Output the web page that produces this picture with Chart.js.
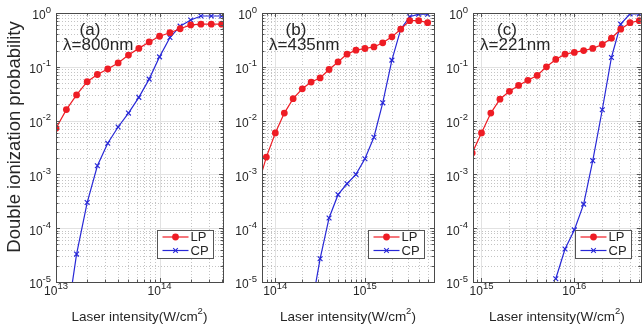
<!DOCTYPE html>
<html>
<head>
<meta charset="utf-8">
<script src="https://cdn.jsdelivr.net/npm/chart.js@4.4.0/dist/chart.umd.min.js"></script>
<style>
  html, body { margin: 0; padding: 0; background: #fff; overflow: hidden; }
  #wrap { position: relative; width: 644px; height: 329px; overflow: hidden; }
  canvas { position: absolute; left: 0; top: 0; }
</style>
</head>
<body>
<div id="wrap">
  <canvas id="chartA" width="644" height="329"></canvas>
  <canvas id="chartB" width="644" height="329"></canvas>
  <canvas id="chartC" width="646" height="329"></canvas>
</div>
<script>
// shared y axis (probability)
const yMin = 1e-5;
const yMax = 1;
const yTickExps = [-5, -4, -3, -2, -1, 0];

// (a) lambda = 800 nm
const intensityA = [1.0e13, 1.26e13, 1.58e13, 2.0e13, 2.51e13, 3.16e13, 3.98e13, 5.01e13, 6.31e13,
  7.94e13, 1.0e14, 1.26e14, 1.58e14, 2.0e14, 2.51e14, 3.16e14, 3.98e14];
const lpA = [0.0072, 0.016, 0.030, 0.053, 0.072, 0.091, 0.118, 0.165, 0.22,
  0.29, 0.37, 0.43, 0.51, 0.60, 0.62, 0.62, 0.62];
const cpA = [null, 1.7e-6, 3.3e-5, 3.0e-4, 1.45e-3, 3.8e-3, 7.6e-3, 0.0138, 0.027,
  0.059, 0.153, 0.35, 0.57, 0.74, 0.88, 0.88, 0.88];
const xTickExpsA = [13, 14];

// (b) lambda = 435 nm
const intensityB = [6.31e13, 7.94e13, 1.0e14, 1.26e14, 1.58e14, 2.0e14, 2.51e14, 3.16e14, 3.98e14, 5.01e14,
  6.31e14, 7.94e14, 1.0e15, 1.26e15, 1.58e15, 2.0e15, 2.51e15, 3.16e15, 3.98e15, 5.01e15];
const lpB = [5.7e-4, 2.1e-3, 5.9e-3, 0.0138, 0.0256, 0.039, 0.052, 0.062, 0.089, 0.123,
  0.172, 0.204, 0.219, 0.234, 0.279, 0.36, 0.50, 0.72, 0.72, 0.66];
const cpB = [null, null, null, null, null, null, 3.1e-6, 2.7e-5, 1.55e-4, 4.2e-4,
  6.7e-4, 1.0e-3, 1.95e-3, 4.9e-3, 0.0214, 0.133, 0.50, 0.85, 0.95, 0.95];
const xTickExpsB = [14, 15];

// (c) lambda = 221 nm
const intensityC = [7.94e14, 1.0e15, 1.26e15, 1.58e15, 2.0e15, 2.51e15, 3.16e15, 3.98e15, 5.01e15, 6.31e15,
  7.94e15, 1.0e16, 1.26e16, 1.58e16, 2.0e16, 2.51e16, 3.16e16, 3.98e16, 5.01e16];
const lpC = [2.5e-3, 5.9e-3, 0.0138, 0.025, 0.035, 0.045, 0.056, 0.069, 0.10, 0.137,
  0.172, 0.185, 0.20, 0.22, 0.26, 0.34, 0.50, 0.66, 0.72];
const cpC = [null, null, null, null, null, null, null, null, null, 1.15e-5,
  4.1e-5, 9.3e-5, 2.8e-4, 1.8e-3, 0.0159, 0.149, 0.62, 0.96, 0.96];
const xTickExpsC = [15, 16];

const seriesNames = ['LP', 'CP'];
const RED = 'rgb(238,28,36)';
const BLUE = 'rgb(40,40,215)';
const FONT = '"Liberation Sans", Arial, Helvetica, sans-serif';
const TEXT = '#262626';

const panels = [
  { id: 'chartA', x: intensityA, lp: lpA, cp: cpA, xMin: 1e13, xMax: 4.1e14, xTicks: xTickExpsA,
    tag: '(a)', wave: 'λ=800nm', pad: { left: 56, right: 421, top: 13, bottom: 47 }, yTitle: true },
  { id: 'chartB', x: intensityB, lp: lpB, cp: cpB, xMin: 7.1e13, xMax: 5.9e15, xTicks: xTickExpsB,
    tag: '(b)', wave: 'λ=435nm', pad: { left: 262, right: 210, top: 13, bottom: 47 }, yTitle: false },
  { id: 'chartC', x: intensityC, lp: lpC, cp: cpC, xMin: 8.1e14, xMax: 5.2e16, xTicks: xTickExpsC,
    tag: '(c)', wave: 'λ=221nm', pad: { left: 473, right: 1, top: 13, bottom: 47 }, yTitle: false }
];

function pairs(xs, ys) {
  return xs.map((v, i) => ({ x: v, y: ys[i] }));
}

// every value k*10^e inside [min, max]
function logGridValues(min, max) {
  const out = [];
  for (let e = Math.floor(Math.log10(min)) - 1; e <= Math.ceil(Math.log10(max)); e++) {
    for (let m = 1; m <= 9; m++) {
      const v = m * Math.pow(10, e);
      if (v >= min * 0.9999 && v <= max * 1.0001) out.push({ v, major: m === 1 });
    }
  }
  return out;
}

// "10" with a raised exponent
function drawPower(ctx, exp, x, y, align) {
  ctx.font = '12px ' + FONT;
  const wBase = ctx.measureText('10').width;
  ctx.font = '9.5px ' + FONT;
  const wExp = ctx.measureText(String(exp)).width;
  const total = wBase + wExp;
  let start = x;
  if (align === 'right') start = x - total;
  if (align === 'center') start = x - total / 2;
  ctx.fillStyle = TEXT;
  ctx.textAlign = 'left';
  ctx.textBaseline = 'middle';
  ctx.font = '12px ' + FONT;
  ctx.fillText('10', start, y + 3);
  ctx.font = '9.5px ' + FONT;
  ctx.fillText(String(exp), start + wBase, y - 3);
}

function drawCross(ctx, cx, cy, r) {
  ctx.beginPath();
  ctx.moveTo(cx - r, cy - r); ctx.lineTo(cx + r, cy + r);
  ctx.moveTo(cx - r, cy + r); ctx.lineTo(cx + r, cy - r);
  ctx.stroke();
}

function makeAxesPlugin(p) {
  return {
    id: 'matlabAxes',
    beforeDatasetsDraw(chart) {
      const { ctx, chartArea: a, scales: { x, y } } = chart;
      ctx.save();
      ctx.beginPath();
      ctx.rect(a.left, a.top, a.right - a.left, a.bottom - a.top);
      ctx.clip();
      const xs = logGridValues(p.xMin, p.xMax);
      const ys = logGridValues(yMin, yMax);
      // minor grid, dotted
      ctx.lineWidth = 1;
      ctx.strokeStyle = '#c4c4c4';
      ctx.setLineDash([1, 2]);
      xs.filter(t => !t.major).forEach(t => {
        const px = Math.round(x.getPixelForValue(t.v)) + 0.5;
        ctx.beginPath(); ctx.moveTo(px, a.top); ctx.lineTo(px, a.bottom); ctx.stroke();
      });
      ys.filter(t => !t.major).forEach(t => {
        const py = Math.round(y.getPixelForValue(t.v)) + 0.5;
        ctx.beginPath(); ctx.moveTo(a.left, py); ctx.lineTo(a.right, py); ctx.stroke();
      });
      // major grid, solid
      ctx.setLineDash([]);
      ctx.strokeStyle = '#e2e2e2';
      xs.filter(t => t.major).forEach(t => {
        const px = Math.round(x.getPixelForValue(t.v)) + 0.5;
        ctx.beginPath(); ctx.moveTo(px, a.top); ctx.lineTo(px, a.bottom); ctx.stroke();
      });
      ys.filter(t => t.major).forEach(t => {
        const py = Math.round(y.getPixelForValue(t.v)) + 0.5;
        ctx.beginPath(); ctx.moveTo(a.left, py); ctx.lineTo(a.right, py); ctx.stroke();
      });
      ctx.restore();
    },
    afterDatasetsDraw(chart) {
      const { ctx, chartArea: a, scales: { x, y } } = chart;
      ctx.save();
      ctx.strokeStyle = '#555';
      ctx.lineWidth = 1;
      // inward ticks on all four sides
      logGridValues(p.xMin, p.xMax).forEach(t => {
        const px = Math.round(x.getPixelForValue(t.v)) + 0.5;
        const len = t.major ? 4 : 2.5;
        ctx.beginPath();
        ctx.moveTo(px, a.bottom); ctx.lineTo(px, a.bottom - len);
        ctx.moveTo(px, a.top); ctx.lineTo(px, a.top + len);
        ctx.stroke();
      });
      logGridValues(yMin, yMax).forEach(t => {
        const py = Math.round(y.getPixelForValue(t.v)) + 0.5;
        const len = t.major ? 4 : 2.5;
        ctx.beginPath();
        ctx.moveTo(a.left, py); ctx.lineTo(a.left + len, py);
        ctx.moveTo(a.right, py); ctx.lineTo(a.right - len, py);
        ctx.stroke();
      });
      // frame
      ctx.strokeStyle = '#4a4a4a';
      ctx.strokeRect(Math.round(a.left) + 0.5, Math.round(a.top) + 0.5,
        Math.round(a.right - a.left), Math.round(a.bottom - a.top));

      // legend box
      const bw = 56, bh = 28;
      const bx = Math.round(a.right) - 66 + 0.5, by = 230.5;
      ctx.fillStyle = '#fff';
      ctx.fillRect(bx, by, bw, bh);
      ctx.strokeStyle = '#555';
      ctx.strokeRect(bx, by, bw, bh);
      chart.data.datasets.forEach((ds, i) => {
        const ly = by + 6.5 + i * 13.5;
        ctx.strokeStyle = ds.borderColor;
        ctx.lineWidth = 1.2;
        ctx.beginPath(); ctx.moveTo(bx + 5, ly); ctx.lineTo(bx + 31, ly); ctx.stroke();
        if (ds.pointStyle === 'circle') {
          ctx.fillStyle = ds.backgroundColor;
          ctx.beginPath(); ctx.arc(bx + 18, ly, ds.pointRadius, 0, Math.PI * 2); ctx.fill();
        } else {
          ctx.lineWidth = 1.1;
          drawCross(ctx, bx + 18, ly, 2.3);
        }
        ctx.fillStyle = TEXT;
        ctx.font = '13px ' + FONT;
        ctx.textAlign = 'left';
        ctx.textBaseline = 'middle';
        ctx.fillText(ds.label, bx + 33, ly + 0.5);
      });
      ctx.restore();
    },
    afterDraw(chart) {
      const { ctx, chartArea: a, scales: { x, y } } = chart;
      ctx.save();
      // tick labels
      yTickExps.forEach(e => {
        drawPower(ctx, e, a.left - 5, y.getPixelForValue(Math.pow(10, e)), 'right');
      });
      p.xTicks.forEach(e => {
        drawPower(ctx, e, x.getPixelForValue(Math.pow(10, e)), a.bottom + 7, 'center');
      });
      // x title with superscript 2
      const cx = (a.left + a.right) / 2;
      ctx.fillStyle = TEXT;
      ctx.textBaseline = 'middle';
      ctx.textAlign = 'left';
      ctx.font = '13.5px ' + FONT;
      const t1 = 'Laser intensity(W/cm', t2 = '2', t3 = ')';
      const w1 = ctx.measureText(t1).width, w3 = ctx.measureText(t3).width;
      ctx.font = '9.5px ' + FONT;
      const w2 = ctx.measureText(t2).width;
      const sx = cx - (w1 + w2 + w3) / 2;
      ctx.font = '13.5px ' + FONT;
      ctx.fillText(t1, sx, 317);
      ctx.font = '9.5px ' + FONT;
      ctx.fillText(t2, sx + w1, 311);
      ctx.font = '13.5px ' + FONT;
      ctx.fillText(t3, sx + w1 + w2, 317);
      // y title
      if (p.yTitle) {
        ctx.save();
        ctx.translate(15, 137);
        ctx.rotate(-Math.PI / 2);
        ctx.textAlign = 'center';
        ctx.font = '18.5px ' + FONT;
        ctx.fillText('Double ionization probability', 0, 0);
        ctx.restore();
      }
      // panel tag and wavelength
      ctx.font = '17px ' + FONT;
      ctx.textAlign = 'center';
      ctx.fillText(p.tag, a.left + 34, 30);
      ctx.textAlign = 'left';
      ctx.fillText(p.wave, a.left + 7, 45);
      ctx.restore();
    }
  };
}

panels.forEach(p => {
  new Chart(document.getElementById(p.id), {
    type: 'line',
    data: {
      datasets: [
        {
          label: seriesNames[0],
          data: pairs(p.x, p.lp),
          borderColor: RED,
          backgroundColor: RED,
          borderWidth: 1.2,
          pointStyle: 'circle',
          pointRadius: 3.4,
          pointBorderWidth: 0,
          pointBackgroundColor: RED
        },
        {
          label: seriesNames[1],
          data: pairs(p.x, p.cp),
          borderColor: BLUE,
          backgroundColor: BLUE,
          borderWidth: 1.2,
          pointStyle: 'crossRot',
          pointRadius: 3.4,
          pointBorderWidth: 1.2,
          pointBorderColor: BLUE
        }
      ]
    },
    options: {
      responsive: false,
      animation: false,
      devicePixelRatio: 1,
      layout: { padding: p.pad },
      plugins: { legend: { display: false }, tooltip: { enabled: false } },
      scales: {
        x: { type: 'logarithmic', min: p.xMin, max: p.xMax, display: false },
        y: { type: 'logarithmic', min: yMin, max: yMax, display: false }
      }
    },
    plugins: [makeAxesPlugin(p)]
  });
});
</script>
</body>
</html>
